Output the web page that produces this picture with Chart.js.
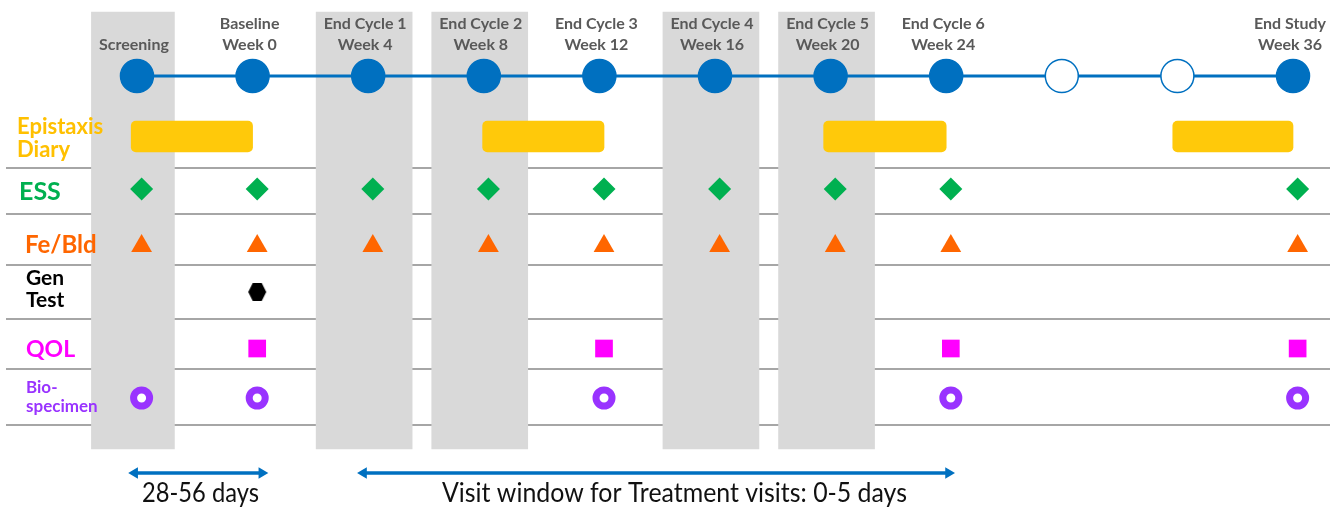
<!DOCTYPE html>
<html><head><meta charset="utf-8">
<script src="https://cdn.jsdelivr.net/npm/chart.js@4.4.1/dist/chart.umd.min.js"></script>
<style>html,body{margin:0;padding:0;background:#fff;overflow:hidden}#wrap{position:relative;width:1332px;height:508px}canvas{display:block}</style>
</head><body><div id="wrap"><canvas id="c" width="1332" height="508"></canvas></div>
<script>
// ---------- data ----------
const visitNames = ["Screening","Baseline","End Cycle 1","End Cycle 2","End Cycle 3","End Cycle 4","End Cycle 5","End Cycle 6","","","End Study"];
const visitWeeks = [null,0,4,8,12,16,20,24,null,null,36];
const visitFilled = [1,1,1,1,1,1,1,1,0,0,1];
const shadedVisits = [0,2,3,5,6];
const diaryStart = [-0.05,2.99,5.94,8.96];
const diaryEnd = [1.0,4.04,7.0,10.0];
const essVisits = [0,1,2,3,4,5,6,7,10];
const feBldVisits = [0,1,2,3,4,5,6,7,10];
const genTestVisits = [1];
const qolVisits = [1,4,7,10];
const bioVisits = [0,1,4,7,10];
const windowSpans = [[-0.02,1.08],[1.96,7.02]];
const windowLabels = ["28-56 days","Visit window for Treatment visits: 0-5 days"];

// ---------- layout (pixels on a 0..508 y axis) ----------
const ROW = {timeline:76, diary:136.5, ess:189, fe:246, gen:292, qol:348.5, bio:398, arrow:473};
const SEPARATORS = [168,214,265,319,369,425];
const BAND = {top:12, bottom:449, shift:-0.035};
const MARK_SHIFT = 0.04;
const BLUE = '#0070C0';
const WINDOW_TEXT = [{cx:200.5, w:117}, {cx:674.5, w:465}];

function hexagonCanvas(){
  const c = document.createElement('canvas'); c.width = 20; c.height = 20;
  const g = c.getContext('2d');
  g.fillStyle = '#000';
  g.beginPath();
  g.moveTo(1,10); g.lineTo(5.5,1); g.lineTo(14.5,1); g.lineTo(19,10); g.lineTo(14.5,19); g.lineTo(5.5,19);
  g.closePath(); g.fill();
  return c;
}

const pts = (vis,y)=>vis.map(i=>({x:i+MARK_SHIFT,y}));

const textPlugin = {
  id:'texts',
  afterDraw(chart){
    const {ctx, scales:{x}} = chart;
    ctx.save();
    // header labels
    ctx.fillStyle = '#595959';
    ctx.textAlign = 'center';
    ctx.textBaseline = 'alphabetic';
    ctx.font = 'bold 16px Lato';
    visitNames.forEach((n,i)=>{
      if(!n) return;
      const px = x.getPixelForValue(i) - 3;
      if(visitWeeks[i]==null){ ctx.fillText(n, px, 50); }
      else { ctx.fillText(n, px, 29); ctx.fillText('Week ' + visitWeeks[i], px, 50); }
    });
    // row labels
    ctx.textAlign = 'left';
    const lab = (t,xx,yy,font,col)=>{ctx.font=font; ctx.fillStyle=col; ctx.fillText(t,xx,yy);};
    lab('Epistaxis',17,133.5,'bold 22px Lato','#FFC000');
    lab('Diary',17,156.5,'bold 22px Lato','#FFC000');
    lab('ESS',19,200,'bold 25px Lato','#00B050');
    lab('Fe/Bld',25,253,'bold 24px Lato','#FF6600');
    lab('Gen',26,285,'bold 21px Lato','#000000');
    lab('Test',26,307,'bold 21px Lato','#000000');
    lab('QOL',26,357,'bold 23px Lato','#FF00FF');
    lab('Bio-',26,393,'bold 17px Lato','#9933FF');
    lab('specimen',26,412,'bold 17px Lato','#9933FF');
    // window labels (fitted horizontally)
    ctx.textAlign = 'center';
    ctx.fillStyle = '#111';
    ctx.font = '26px Lato';
    windowLabels.forEach((t,i)=>{
      const sx = WINDOW_TEXT[i].w / ctx.measureText(t).width;
      ctx.save();
      ctx.translate(WINDOW_TEXT[i].cx, 502);
      ctx.scale(sx,1);
      ctx.fillText(t, 0, 0);
      ctx.restore();
    });
    ctx.restore();
  }
};

function build(){
  const datasets = [];
  // shaded visit bands
  datasets.push({type:'bar', order:10, grouped:false, barThickness:83, backgroundColor:'#D9D9D9',
    data: shadedVisits.filter(v=>v===0).map(v=>({x:v+BAND.shift, y:[BAND.top,BAND.bottom]}))});
  datasets.push({type:'bar', order:10, grouped:false, barThickness:96, backgroundColor:'#D9D9D9',
    data: shadedVisits.filter(v=>v!==0).map(v=>({x:v+BAND.shift, y:[BAND.top,BAND.bottom]}))});
  // epistaxis diary periods
  datasets.push({type:'bar', indexAxis:'y', order:5, grouped:false, barThickness:31, borderRadius:5, borderSkipped:false,
    backgroundColor:'#FFC90A', data: diaryStart.map((s,i)=>({x:[s,diaryEnd[i]], y:ROW.diary}))});
  // timeline
  datasets.push({type:'line', order:3, borderColor:BLUE, borderWidth:3, pointRadius:16.5, pointHoverRadius:16.5,
    pointBackgroundColor: visitFilled.map(f=>f?BLUE:'#FFFFFF'), pointBorderColor:BLUE, pointBorderWidth:1.5,
    data: visitNames.map((n,i)=>({x:i,y:ROW.timeline}))});
  // assessments
  datasets.push({type:'scatter', order:1, pointStyle:'rectRot', pointRadius:11.5, backgroundColor:'#00B050', borderWidth:0, data:pts(essVisits,ROW.ess)});
  datasets.push({type:'scatter', order:1, pointStyle:'triangle', pointRadius:12, backgroundColor:'#FF6600', borderWidth:0, data:pts(feBldVisits,ROW.fe)});
  datasets.push({type:'scatter', order:1, pointStyle:hexagonCanvas(), pointRadius:10, data:pts(genTestVisits,ROW.gen)});
  datasets.push({type:'scatter', order:1, pointStyle:'rect', pointRadius:12.5, backgroundColor:'#FF00FF', borderWidth:0, data:pts(qolVisits,ROW.qol)});
  datasets.push({type:'scatter', order:1, pointStyle:'circle', pointRadius:8, backgroundColor:'#FFFFFF', borderColor:'#9933FF', borderWidth:7, data:pts(bioVisits,ROW.bio)});
  // window arrows
  windowSpans.forEach(s=>{
    datasets.push({type:'line', order:1, borderColor:BLUE, borderWidth:3.5, pointStyle:'triangle', pointRadius:6.5,
      pointRotation:[-90,90], pointBackgroundColor:BLUE, pointBorderWidth:0,
      data:[{x:s[0],y:ROW.arrow},{x:s[1],y:ROW.arrow}]});
  });

  new Chart(document.getElementById('c'), {
    type:'scatter',
    data:{datasets},
    options:{
      responsive:false, animation:false, devicePixelRatio:1,
      layout:{autoPadding:false, padding:{left:6,right:2,top:0,bottom:0}},
      plugins:{legend:{display:false}, tooltip:{enabled:false}},
      events:[],
      scales:{
        x:{type:'linear', display:false, min:-1.133, max:10.32, offset:false, grid:{offset:false}},
        y:{type:'linear', display:true, reverse:true, min:0, max:508, offset:false, z:1,
           border:{display:false}, ticks:{display:false},
           grid:{offset:false, drawTicks:false, color:'#A6A6A6', lineWidth:2},
           afterBuildTicks: ax=>{ ax.ticks = SEPARATORS.map(v=>({value:v})); }}
      }
    },
    plugins:[textPlugin]
  });
}
if(document.fonts && document.fonts.load){
  Promise.all([document.fonts.load('bold 16px Lato'),document.fonts.load('26px Lato')]).then(build,build);
} else build();
</script></body></html>
